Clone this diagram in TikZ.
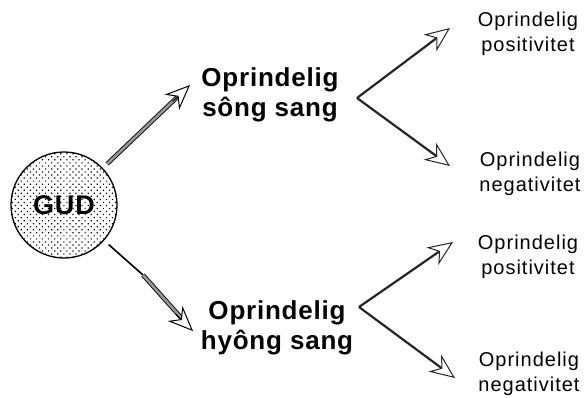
\documentclass[tikz,border=0pt]{standalone}
\usepackage{fontspec}
\setmainfont{Liberation Sans}
\newfontfamily\spacedsm[LetterSpace=5]{Liberation Sans}
\newfontfamily\spacedbg[LetterSpace=3]{Liberation Sans}
\usetikzlibrary{arrows.meta,patterns.meta,calc}
\begin{document}
\begin{tikzpicture}[x=1pt,y=-1pt,
  big/.style={font=\spacedbg\bfseries\fontsize{26}{30}\selectfont, align=center, inner sep=0pt},
  small/.style={font=\spacedsm\fontsize{20}{25}\selectfont, align=center, inner sep=0pt},
  tipline/.style={draw=black, line width=1pt, -{Stealth[length=25pt,width=21pt,inset=8pt,fill=white]}},
  dblshaft/.style={draw=black, line width=0.9pt, double=black!40, double distance=2.6pt},
  thinshaft/.style={draw=black, line width=1.6pt},
  branch/.style={draw=black!85, line width=2.2pt, -{Stealth[length=25pt,width=21pt,inset=8pt,fill=white,line width=1pt]}},
  godnode/.style={circle, draw=black, line width=1.3pt, minimum size=106pt, inner sep=0pt,
    preaction={fill=white}, pattern={Dots[angle=45,distance=4.3pt,radius=0.85pt]},
    font=\spacedbg\bfseries\fontsize{27}{30}\selectfont}
]
\useasboundingbox (0,0) rectangle (584,397);
\fill[white] (0,0) rectangle (584,397);
% main circle
\node[godnode] (gud) at (64,205) {GUD};
% middle labels
\node[big] (up) at (270,95) {Oprindelig\\sông sang};
\node[big] (lo) at (277,328) {Oprindelig\\hyông sang};
% right labels
\node[small] (r1) at (528,34) {Oprindelig\\positivitet};
\node[small] (r2) at (530,174) {Oprindelig\\negativitet};
\node[small] (r3) at (528,257) {Oprindelig\\positivitet};
\node[small] (r4) at (529,374) {Oprindelig\\negativitet};
% arrow coordinates
\coordinate (t1) at (190,85);
\coordinate (t2) at (193,331);
\coordinate (m2) at (143,275);
\coordinate (v1) at (357,98);
\coordinate (a1) at (450,28);
\coordinate (a2) at (450,166);
\coordinate (v2) at (359,307);
\coordinate (a3) at (453,242);
\coordinate (a4) at (455,378);
% GUD -> upper
\draw[dblshaft, shorten <=6pt, shorten >=18pt] (gud) -- (t1);
\draw[tipline] ($(t1)!24pt!(gud)$) -- (t1);
% GUD -> lower
\draw[thinshaft, shorten <=6pt] (gud) -- (m2);
\draw[dblshaft, shorten >=18pt] (m2) -- (t2);
\draw[tipline] ($(t2)!24pt!(gud)$) -- (t2);
% branches
\draw[branch] (v1) -- (a1);
\draw[branch] (v1) -- (a2);
\draw[branch] (v2) -- (a3);
\draw[branch] (v2) -- (a4);
\end{tikzpicture}
\end{document}
